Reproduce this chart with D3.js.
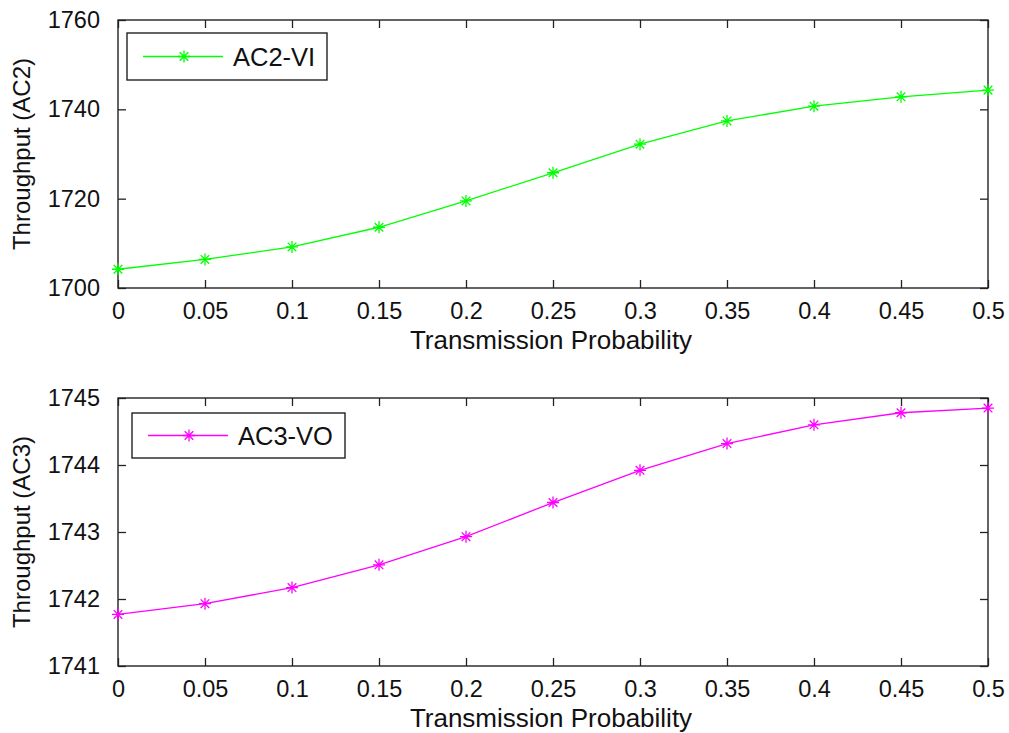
<!DOCTYPE html>
<html>
<head>
<meta charset="utf-8">
<script src="https://cdn.jsdelivr.net/npm/d3@7"></script>
<style>
  body { margin: 0; background: #fff; }
  svg text { font-family: Arial, "Liberation Sans", sans-serif; fill: #111; }
</style>
</head>
<body>
<svg id="chart"></svg>
<script>
const probs = [0, 0.05, 0.1, 0.15, 0.2, 0.25, 0.3, 0.35, 0.4, 0.45, 0.5];
const ac2 = [1704.2, 1706.4, 1709.2, 1713.6, 1719.5, 1725.8, 1732.2, 1737.4, 1740.7, 1742.8, 1744.3];
const ac3 = [1741.77, 1741.93, 1742.17, 1742.51, 1742.93, 1743.44, 1743.92, 1744.32, 1744.60, 1744.78, 1744.85];
const xTicks = [0, 0.05, 0.1, 0.15, 0.2, 0.25, 0.3, 0.35, 0.4, 0.45, 0.5];
const ac2Ticks = [1700, 1720, 1740, 1760];
const ac3Ticks = [1741, 1742, 1743, 1744, 1745];

const W = 1009, H = 733;
const svg = d3.select("#chart").attr("width", W).attr("height", H);

const left = 118, right = 988;

const panels = [
  {top: 20, bottom: 288, values: ac2, domain: [1700, 1760], ticks: ac2Ticks,
   color: "#00ff00", name: "AC2-VI", ylabel: "Throughput (AC2)",
   legend: {x: 127, y: 33, w: 200, h: 47}},
  {top: 398, bottom: 666, values: ac3, domain: [1741, 1745], ticks: ac3Ticks,
   color: "#ff00ff", name: "AC3-VO", ylabel: "Throughput (AC3)",
   legend: {x: 132, y: 413, w: 213, h: 45}}
];

const x = d3.scaleLinear().domain([0, 0.5]).range([left, right]);

function star(g, cx, cy, color) {
  const r = 6, d = 4.3;
  const p = `M${cx - r},${cy}L${cx + r},${cy}M${cx},${cy - r}L${cx},${cy + r}` +
            `M${cx - d},${cy - d}L${cx + d},${cy + d}M${cx - d},${cy + d}L${cx + d},${cy - d}`;
  g.append("path").attr("d", p).attr("stroke", color).attr("stroke-width", 1.3).attr("fill", "none");
}

panels.forEach(p => {
  const y = d3.scaleLinear().domain(p.domain).range([p.bottom, p.top]);
  const g = svg.append("g");
  const fmt = d => d3.format("")(+d.toFixed(2));

  // axes with inward ticks on all four sides
  g.append("g")
   .attr("transform", `translate(0,${p.bottom})`)
   .call(d3.axisBottom(x).tickValues(xTicks).tickSize(-8).tickPadding(14).tickFormat(fmt))
   .call(a => a.select(".domain").remove());
  g.append("g")
   .attr("transform", `translate(0,${p.top})`)
   .call(d3.axisTop(x).tickValues(xTicks).tickSize(-8).tickFormat(""))
   .call(a => a.select(".domain").remove());
  g.append("g")
   .attr("transform", `translate(${left},0)`)
   .call(d3.axisLeft(y).tickValues(p.ticks).tickSize(-8).tickPadding(18).tickFormat(d3.format("d")))
   .call(a => a.select(".domain").remove());
  g.append("g")
   .attr("transform", `translate(${right},0)`)
   .call(d3.axisRight(y).tickValues(p.ticks).tickSize(-8).tickFormat(""))
   .call(a => a.select(".domain").remove());

  g.selectAll(".tick line").attr("stroke", "#222").attr("stroke-width", 1.3);
  g.selectAll(".tick text").attr("font-size", 23.5).attr("font-family", "Arial, 'Liberation Sans', sans-serif").attr("fill", "#111");

  g.append("rect")
   .attr("x", left).attr("y", p.top)
   .attr("width", right - left).attr("height", p.bottom - p.top)
   .attr("fill", "none").attr("stroke", "#222").attr("stroke-width", 1.4);

  // series
  const line = d3.line().x((d, i) => x(probs[i])).y(d => y(d));
  g.append("path").datum(p.values)
   .attr("d", line).attr("fill", "none")
   .attr("stroke", p.color).attr("stroke-width", 1.3);
  p.values.forEach((v, i) => star(g, x(probs[i]), y(v), p.color));

  // labels
  g.append("text")
   .attr("x", (left + right) / 2 - 2).attr("y", p.bottom + 61)
   .attr("text-anchor", "middle").attr("font-size", 26)
   .text("Transmission Probability");
  g.append("text")
   .attr("transform", `translate(30,${(p.top + p.bottom) / 2}) rotate(-90)`)
   .attr("text-anchor", "middle").attr("font-size", 24)
   .text(p.ylabel);

  // legend
  const L = p.legend;
  g.append("rect")
   .attr("x", L.x).attr("y", L.y).attr("width", L.w).attr("height", L.h)
   .attr("fill", "#fff").attr("stroke", "#222").attr("stroke-width", 1.4);
  const ly = L.y + L.h / 2;
  g.append("line")
   .attr("x1", L.x + 16).attr("x2", L.x + 96).attr("y1", ly).attr("y2", ly)
   .attr("stroke", p.color).attr("stroke-width", 1.3);
  star(g, L.x + 57, ly, p.color);
  g.append("text")
   .attr("x", L.x + 106).attr("y", ly + 9)
   .attr("font-size", 25.5)
   .text(p.name);
});
</script>
</body>
</html>
